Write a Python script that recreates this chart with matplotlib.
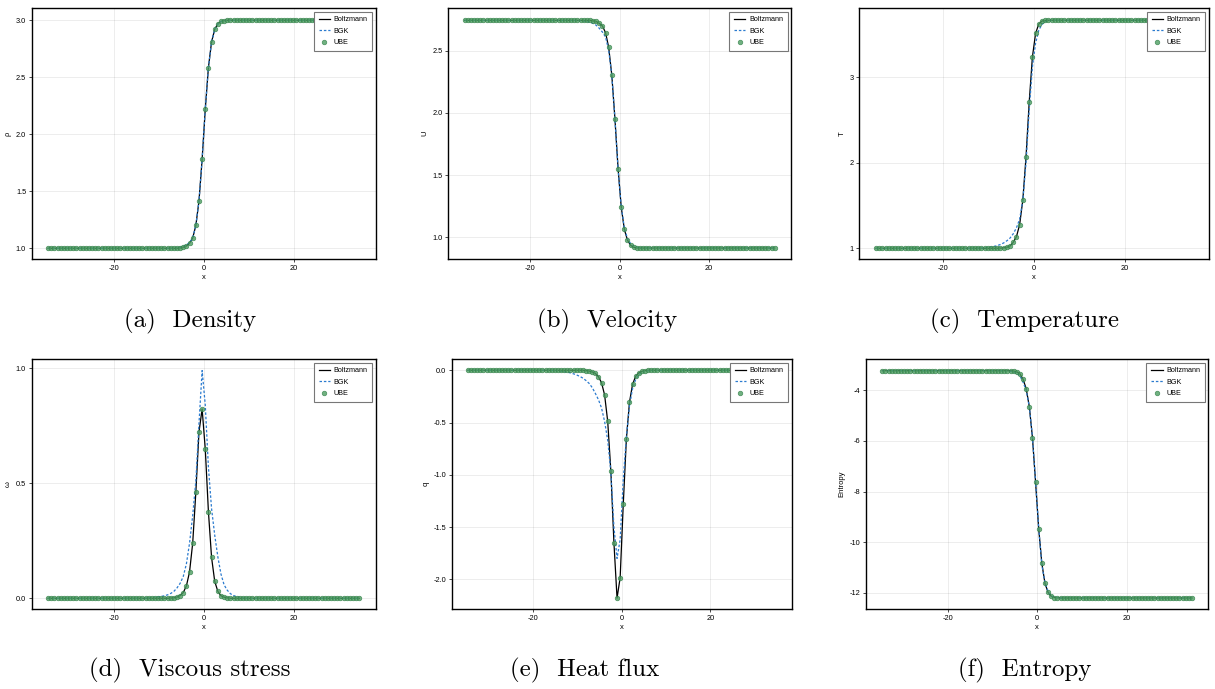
import numpy as np
import matplotlib.pyplot as plt

plt.rcParams['font.family'] = ['Liberation Sans', 'DejaVu Sans']
plt.rcParams['axes.unicode_minus'] = False

# sample points (cell centres of the 1D grid)
x = np.linspace(-34.65, 34.65, 100)

def pad(core, start, left, right):
    return [left] * start + core + [right] * (100 - start - len(core))

# density
rho_boltz = pad([1.003, 1.01, 1.02, 1.045, 1.09, 1.20, 1.415, 1.78, 2.22, 2.585,
                 2.81, 2.92, 2.97, 2.99, 2.997], 42, 1.0, 3.0)
rho_bgk = pad([1.002, 1.005, 1.01, 1.018, 1.03, 1.05, 1.09, 1.20, 1.415, 1.78, 2.22,
               2.585, 2.81, 2.915, 2.965, 2.988, 2.996], 40, 1.0, 3.0)

# velocity
u_boltz = pad([2.74, 2.735, 2.72, 2.699, 2.645, 2.527, 2.302, 1.951, 1.552, 1.244,
               1.064, 0.978, 0.936, 0.92, 0.916], 41, 2.744, 0.914)
u_bgk = pad([2.743, 2.741, 2.738, 2.734, 2.729, 2.72, 2.705, 2.68, 2.65, 2.61, 2.505,
             2.30, 1.95, 1.55, 1.25, 1.075, 0.99, 0.95, 0.93, 0.92, 0.916], 36, 2.744, 0.914)

# temperature
t_boltz = pad([1.002, 1.005, 1.012, 1.027, 1.07, 1.136, 1.276, 1.565, 2.068, 2.711,
               3.237, 3.514, 3.623, 3.658, 3.665], 39, 1.0, 3.667)
t_bgk = pad([1.002, 1.003, 1.006, 1.01, 1.015, 1.022, 1.032, 1.045, 1.063, 1.088, 1.12,
             1.17, 1.24, 1.34, 1.56, 2.0, 2.62, 3.12, 3.40, 3.55, 3.62, 3.65, 3.662],
            32, 1.0, 3.667)

# viscous stress
w_boltz = pad([0.001, 0.002, 0.005, 0.012, 0.025, 0.054, 0.115, 0.24, 0.461, 0.723,
               0.823, 0.649, 0.377, 0.178, 0.074, 0.03, 0.011, 0.005, 0.002], 39, 0.0, 0.0)
w_bgk = pad([0.001, 0.002, 0.003, 0.004, 0.006, 0.008, 0.011, 0.015, 0.021, 0.03, 0.045,
             0.065, 0.095, 0.15, 0.24, 0.36, 0.51, 0.76, 0.99, 0.84, 0.57, 0.39, 0.275,
             0.18, 0.105, 0.058, 0.035, 0.02, 0.012, 0.007, 0.004, 0.002], 31, 0.0, 0.0)

# heat flux
q_boltz = pad([-0.003, -0.007, -0.015, -0.03, -0.061, -0.118, -0.236, -0.49, -0.96,
               -1.65, -2.18, -1.985, -1.283, -0.66, -0.306, -0.134, -0.057, -0.025,
               -0.01, -0.004], 38, 0.0, 0.0)
q_bgk = pad([-0.004, -0.006, -0.009, -0.013, -0.018, -0.025, -0.034, -0.045, -0.058,
             -0.075, -0.098, -0.125, -0.165, -0.22, -0.28, -0.36, -0.49, -0.67, -0.97,
             -1.5, -1.8, -1.62, -1.05, -0.64, -0.34, -0.175, -0.088, -0.042, -0.02,
             -0.01, -0.005, -0.002], 28, 0.0, 0.0)

# entropy
s_boltz = pad([-3.23, -3.24, -3.27, -3.35, -3.565, -3.937, -4.648, -5.873, -7.64, -9.48,
               -10.84, -11.63, -11.99, -12.14, -12.19, -12.2], 41, -3.225, -12.21)
s_bgk = pad([-3.228, -3.232, -3.24, -3.255, -3.28, -3.33, -3.43, -3.68, -4.0, -4.65,
             -5.85, -7.62, -9.45, -10.9, -11.6, -11.95, -12.12, -12.18, -12.2],
            38, -3.225, -12.21)

# UBE solution sits on the Boltzmann reference
panels = [
    (rho_boltz, rho_bgk, rho_boltz, 'ρ', '(a)  Density', [1.0, 1.5, 2.0, 2.5, 3.0], '%.1f', (0.906, 3.105)),
    (u_boltz, u_bgk, u_boltz, 'U', '(b)  Velocity', [1.0, 1.5, 2.0, 2.5], '%.1f', (0.826, 2.841)),
    (t_boltz, t_bgk, t_boltz, 'T', '(c)  Temperature', [1, 2, 3], '%d', (0.875, 3.807)),
    (w_boltz, w_bgk, w_boltz, 'ω', '(d)  Viscous stress', [0.0, 0.5, 1.0], '%.1f', (-0.0465, 1.039)),
    (q_boltz, q_bgk, q_boltz, 'q', '(e)  Heat flux', [-2.0, -1.5, -1.0, -0.5, 0.0], '%.1f', (-2.284, 0.105)),
    (s_boltz, s_bgk, s_boltz, 'Entropy', '(f)  Entropy', [-12, -10, -8, -6, -4], '%d', (-12.644, -2.775)),
]

W, H = 1215, 689
# axes boxes in pixels: left, right, top, bottom
boxes = [(31.7, 375.7, 8.3, 259), (448.3, 791, 8.3, 259), (859.3, 1208.7, 8.3, 259),
         (31.7, 375.7, 359.3, 609), (451.7, 791.7, 359.3, 609), (866, 1208.3, 359.3, 609)]
caption_pos = [(190, 321), (607, 321), (1025, 321), (190, 670), (585, 670), (1025, 670)]

fig = plt.figure(figsize=(W / 100, H / 100), dpi=100)

for (yb, yg, yu, ylab, cap, yt, fmt, ylim), (l, r, t, b), (cx, cy) in zip(panels, boxes, caption_pos):
    ax = fig.add_axes([l / W, 1 - b / H, (r - l) / W, (b - t) / H])
    ax.plot(x, yb, color='black', lw=0.9, label='Boltzmann')
    ax.plot(x, yg, color='#2b7bcf', lw=0.9, ls=(0, (2, 1.5)), label='BGK')
    ax.plot(x, yu, 'o', ms=3.3, mfc='#4e9e62', mec='#2f7f47', mew=0.5, alpha=0.8,
            label='UBE')
    ax.set_xlim(-38.3, 38.3)
    ax.set_ylim(*ylim)
    ax.set_xticks([-20, 0, 20])
    ax.set_yticks(yt)
    ax.set_yticklabels([fmt % v for v in yt])
    ax.grid(True, color='black', alpha=0.1, lw=0.5)
    ax.tick_params(labelsize=5.3, length=2, width=0.5, pad=2)
    for sp in ax.spines.values():
        sp.set_linewidth(1.0)
    ax.set_xlabel('x', fontsize=5.5, labelpad=2)
    ax.set_ylabel(ylab, fontsize=5.5, labelpad=3)
    leg = ax.legend(loc='upper right', fontsize=5.2, handlelength=1.6, handletextpad=0.5,
                    borderpad=0.65, labelspacing=0.6, fancybox=False, framealpha=1,
                    borderaxespad=0.45)
    leg.get_frame().set_edgecolor('#777777')
    leg.get_frame().set_linewidth(0.8)
    fig.text(cx / W, 1 - cy / H, cap, family='cmr10', fontsize=18, ha='center', va='center')

fig.savefig('out.png', dpi=100)
